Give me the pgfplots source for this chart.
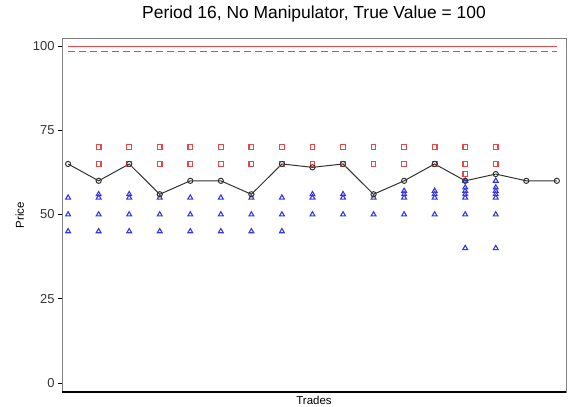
\documentclass[border=0pt]{standalone}
\usepackage{fontspec}
\setmainfont{Liberation Sans}
\usepackage{pgfplots}
\pgfplotsset{compat=1.18}
\definecolor{askred}{RGB}{228,72,72}
\definecolor{bidblue}{RGB}{55,55,225}
\definecolor{tradegray}{RGB}{50,50,50}
\begin{document}
\begin{tikzpicture}
\useasboundingbox (0,0) rectangle (568bp,407bp);
\begin{axis}[
  at={(62bp,15bp)}, anchor=south west,
  scale only axis, width=504bp, height=354bp,
  xmin=0.8, xmax=17.3, ymin=-2.7, ymax=102.4,
  xtick=\empty,
  ytick={0,25,50,75,100},
  ytick pos=left, tick align=outside, major tick length=4bp,
  tick style={black, line width=0.6pt},
  /pgf/number format/assume math mode=true,
  tick label style={font=\fontsize{13}{15}\selectfont, text=black!80},
  axis line style={gray, line width=0.9pt},
  title={Period 16, No Manipulator, True Value = 100},
  title style={font=\fontsize{17.5}{20}\selectfont, at={(0.5,1)}, yshift=6bp},
  xlabel={Trades}, ylabel={Price},
  label style={font=\fontsize{11.5}{13}\selectfont},
  xlabel style={yshift=3bp},
  ylabel style={yshift=2bp},
  clip=false,
]
% true value lines
\addplot[askred, line width=1.1pt] coordinates {(1,100) (17,100)};
\addplot[askred, line width=1.2pt, dash pattern=on 7bp off 4bp] coordinates {(1,98.5) (17,98.5)};
% asks
\addplot[only marks, mark=square, mark size=2.3bp, color=askred, mark options={askred, line width=1.2pt}] coordinates {
(2,70)(2,65)(3,70)(3,65)(4,70)(4,65)(5,70)(5,65)(6,70)(6,65)(7,70)(7,65)
(8,70)(8,65)(9,70)(9,65)(10,70)(10,65)(11,70)(11,65)(12,70)(12,65)
(13,70)(13,65)(14,70)(14,65)(14,62)(15,70)(15,65)};
% bids
\addplot[only marks, mark=triangle, mark size=2.8bp, color=bidblue, mark options={bidblue, line width=1.1pt}] coordinates {
(1,55)(1,50)(1,45)
(2,56)(2,55)(2,50)(2,45)
(3,56)(3,55)(3,50)(3,45)
(4,55)(4,50)(4,45)
(5,55)(5,50)(5,45)
(6,55)(6,50)(6,45)
(7,55)(7,50)(7,45)
(8,55)(8,50)(8,45)
(9,56)(9,55)(9,50)
(10,56)(10,55)(10,50)
(11,55)(11,50)
(12,57)(12,56)(12,55)(12,50)
(13,57)(13,56)(13,55)(13,50)
(14,60)(14,58)(14,57)(14,56)(14,55)(14,50)(14,40)
(15,60)(15,58)(15,57)(15,56)(15,55)(15,50)(15,40)};
% trades
\addplot[tradegray, line width=1pt, mark=o, mark size=2.6bp, mark options={tradegray, line width=1pt, fill=white}] coordinates {
(1,65)(2,60)(3,65)(4,56)(5,60)(6,60)(7,56)(8,65)(9,64)(10,65)(11,56)(12,60)(13,65)(14,60)(15,62)(16,60)(17,60)};
\draw[black, line width=1.4pt] (rel axis cs:0,0) -- (rel axis cs:1,0);
\end{axis}
\end{tikzpicture}
\end{document}
